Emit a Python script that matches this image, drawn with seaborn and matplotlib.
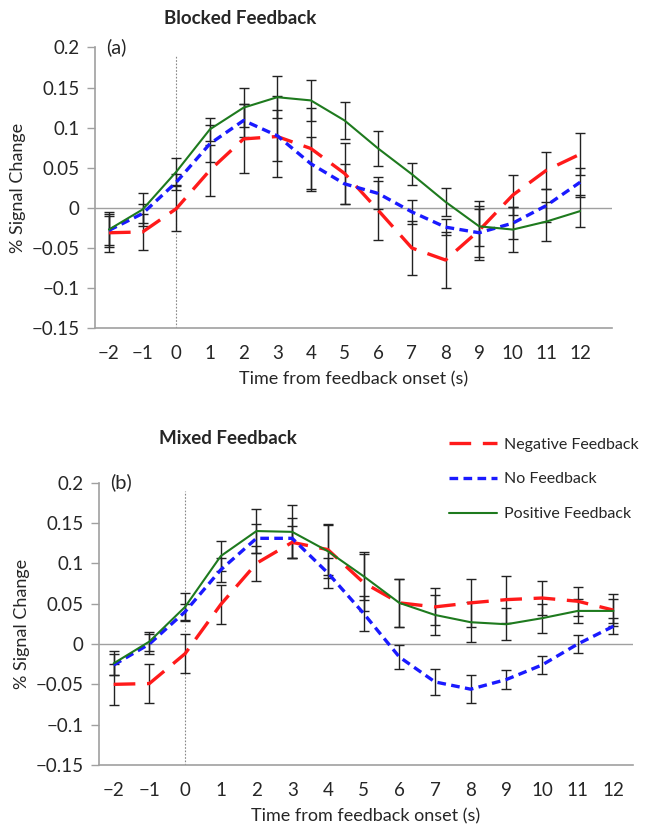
import numpy as np
import pandas as pd
import matplotlib
matplotlib.use("Agg")
import matplotlib.pyplot as plt
import seaborn as sns

time_s = [-2, -1, 0, 1, 2, 3, 4, 5, 6, 7, 8, 9, 10, 11, 12]
series_names = ["Negative Feedback", "No Feedback", "Positive Feedback"]

blocked_neg = [-0.031, -0.030, -0.001, 0.047, 0.086, 0.089, 0.074, 0.043, -0.003, -0.050, -0.065, -0.028, 0.016, 0.047, 0.067]
blocked_no = [-0.028, -0.007, 0.032, 0.080, 0.109, 0.090, 0.055, 0.030, 0.018, -0.005, -0.024, -0.031, -0.019, 0.003, 0.032]
blocked_pos = [-0.027, -0.002, 0.045, 0.098, 0.125, 0.138, 0.134, 0.109, 0.074, 0.042, 0.0075, -0.023, -0.027, -0.017, -0.004]
blocked_neg_err = [0.024, 0.023, 0.028, 0.032, 0.043, 0.051, 0.050, 0.038, 0.037, 0.034, 0.035, 0.037, 0.025, 0.023, 0.026]
blocked_no_err = [0.018, 0.012, 0.010, 0.023, 0.020, 0.032, 0.034, 0.025, 0.020, 0.015, 0.010, 0.030, 0.020, 0.020, 0.018]
blocked_pos_err = [0.022, 0.021, 0.017, 0.014, 0.024, 0.026, 0.026, 0.023, 0.022, 0.014, 0.017, 0.025, 0.028, 0.024, 0.020]

mixed_neg = [-0.050, -0.049, -0.012, 0.049, 0.100, 0.126, 0.117, 0.076, 0.051, 0.046, 0.051, 0.055, 0.057, 0.053, 0.042]
mixed_no = [-0.026, 0.000, 0.040, 0.092, 0.131, 0.131, 0.088, 0.038, -0.016, -0.047, -0.056, -0.044, -0.026, 0.000, 0.022]
mixed_pos = [-0.024, 0.003, 0.046, 0.109, 0.140, 0.139, 0.115, 0.084, 0.051, 0.036, 0.027, 0.0245, 0.032, 0.041, 0.041]
mixed_neg_err = [0.025, 0.024, 0.024, 0.024, 0.022, 0.020, 0.032, 0.035, 0.030, 0.023, 0.030, 0.029, 0.021, 0.018, 0.020]
mixed_no_err = [0.013, 0.012, 0.010, 0.015, 0.018, 0.025, 0.018, 0.022, 0.015, 0.016, 0.017, 0.012, 0.011, 0.011, 0.010]
mixed_pos_err = [0.015, 0.012, 0.017, 0.019, 0.027, 0.033, 0.033, 0.030, 0.030, 0.025, 0.025, 0.020, 0.018, 0.015, 0.015]

y_ticks = [-0.15, -0.1, -0.05, 0, 0.05, 0.1, 0.15, 0.2]
y_tick_labels = ["\u22120.15", "\u22120.1", "\u22120.05", "0", "0.05", "0.1", "0.15", "0.2"]
x_tick_labels = ["\u22122", "\u22121", "0", "1", "2", "3", "4", "5", "6", "7", "8", "9", "10", "11", "12"]

colors = {"Negative Feedback": "#ff1a1a", "No Feedback": "#1a1aff", "Positive Feedback": "#1e7a1e"}
dashes = {"Negative Feedback": (6.5, 3.5), "No Feedback": (2.6, 1.6), "Positive Feedback": ""}
widths = {"Negative Feedback": 2.4, "No Feedback": 2.4, "Positive Feedback": 1.5}

sns.set_theme(style="white")
plt.rcParams["font.family"] = ["Lato", "DejaVu Sans"]

def make_df(neg, no, pos):
    frames = []
    for name, vals in zip(series_names, [neg, no, pos]):
        frames.append(pd.DataFrame({"time": time_s, "value": vals, "cond": name}))
    return pd.concat(frames, ignore_index=True)

fig = plt.figure(figsize=(6.45, 8.33), dpi=100)
ax1 = fig.add_axes([0.147, 0.606, 0.802, 0.337])
ax2 = fig.add_axes([0.153, 0.0816, 0.828, 0.339])

panels = [
    (ax1, make_df(blocked_neg, blocked_no, blocked_pos), [blocked_neg_err, blocked_no_err, blocked_pos_err], (-2.42, 12.95), "(a)"),
    (ax2, make_df(mixed_neg, mixed_no, mixed_pos), [mixed_neg_err, mixed_no_err, mixed_pos_err], (-2.42, 12.54), "(b)"),
]

for ax, df, errs, xl, tag in panels:
    ax.axhline(0, color="#a0a0a0", lw=1.0, zorder=1)
    ax.axvline(0, color="#888888", lw=0.8, ls=(0, (1.5, 1.5)), zorder=1, ymax=0.97)
    for name, err in zip(series_names, errs):
        sub = df[df["cond"] == name]
        ax.errorbar(sub["time"], sub["value"], yerr=err, fmt="none", ecolor="#222222",
                    elinewidth=1.0, capsize=3.3, capthick=1.0, zorder=2)
    for name in series_names:
        sub = df[df["cond"] == name]
        sns.lineplot(data=sub, x="time", y="value", ax=ax, color=colors[name],
                     lw=widths[name], errorbar=None, legend=False, zorder=3,
                     label=name)
        line = ax.lines[-1]
        if dashes[name]:
            line.set_dashes(dashes[name])
    ax.set_xlim(*xl)
    ax.set_ylim(-0.15, 0.2)
    ax.set_yticks(y_ticks)
    ax.set_yticklabels(y_tick_labels, fontsize=13.5)
    ax.set_xticks(time_s)
    ax.set_xticklabels(x_tick_labels, fontsize=13.5)
    ax.tick_params(axis="y", left=True, length=6, color="#a0a0a0", width=1, pad=5)
    ax.tick_params(axis="x", bottom=False, pad=6)
    for s in ["top", "right"]:
        ax.spines[s].set_visible(False)
    for s in ["left", "bottom"]:
        ax.spines[s].set_color("#a0a0a0")
        ax.spines[s].set_linewidth(1.2)
    ax.set_xlabel("Time from feedback onset (s)", fontsize=13, labelpad=7)
    ax.set_ylabel("% Signal Change", fontsize=13, labelpad=4)
    ax.text(0.022, 1.0, tag, transform=ax.transAxes, fontsize=14.5, va="center", ha="left")

fig.text(240 / 645, 1 - 18 / 833, "Blocked Feedback", ha="center", va="center",
         fontsize=13.5, fontweight="bold")
fig.text(228 / 645, 1 - 438 / 833, "Mixed Feedback", ha="center", va="center",
         fontsize=13.5, fontweight="bold")

handles = ax2.lines[-3:]
leg = fig.legend(handles=handles, labels=series_names, loc="upper left",
                 bbox_to_anchor=(435 / 645, 1 - 423 / 833), frameon=False,
                 fontsize=11.5, handlelength=3.0, labelspacing=1.3, handletextpad=0.4)

fig.savefig("out.png", dpi=100)
